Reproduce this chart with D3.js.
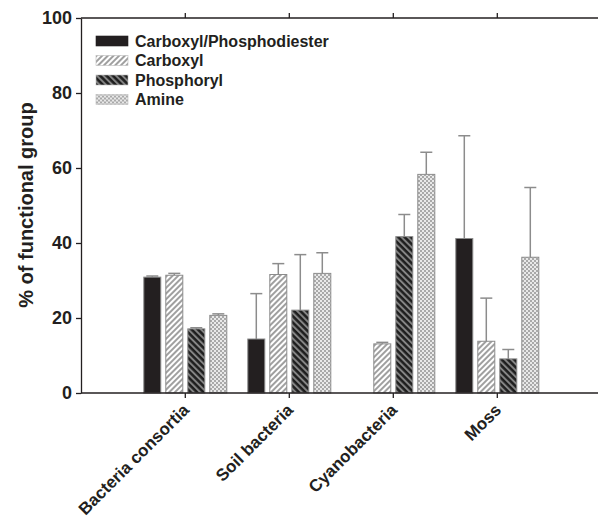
<!DOCTYPE html>
<html>
<head>
<meta charset="utf-8">
<script src="https://d3js.org/d3.v7.min.js"></script>
<style>
  body { margin: 0; background: #fff; }
  text { font-family: "Liberation Sans", Arial, sans-serif; font-weight: bold; fill: #231f20; }
</style>
</head>
<body>
<div class="graph"></div>
<script>

// data
var categories = ["Bacteria consortia", "Soil bacteria", "Cyanobacteria", "Moss"];
var seriesNames = ["Carboxyl/Phosphodiester", "Carboxyl", "Phosphoryl", "Amine"];

var carboxylPhosphodiester = [30.9, 14.4, null, 41.2];
var carboxylPhosphodiesterErr = [0.3, 12.1, null, 27.4];
var carboxyl = [31.4, 31.6, 13.1, 13.8];
var carboxylErr = [0.5, 2.9, 0.4, 11.5];
var phosphoryl = [17.1, 22.1, 41.7, 9.1];
var phosphorylErr = [0.3, 14.8, 5.9, 2.5];
var amine = [20.7, 31.9, 58.3, 36.2];
var amineErr = [0.4, 5.5, 5.9, 18.6];

var yTicks = [0, 20, 40, 60, 80, 100];

var seriesValues = [carboxylPhosphodiester, carboxyl, phosphoryl, amine];
var seriesErrs = [carboxylPhosphodiesterErr, carboxylErr, phosphorylErr, amineErr];
var fills = ["#231f20", "url(#hatchUp)", "url(#hatchDown)", "url(#dots)"];

var width = 598, height = 522;
// plot frame (note: "top" is taken by window.top)
var plotLeft = 81, plotTop = 18, plotBottom = 393, plotRight = 598;

var svg = d3.select("div.graph").append("svg")
    .attr("width", width)
    .attr("height", height);

// patterns
var defs = svg.append("defs");

var p1 = defs.append("pattern")
    .attr("id", "hatchUp")
    .attr("patternUnits", "userSpaceOnUse")
    .attr("width", 4).attr("height", 4)
    .attr("patternTransform", "rotate(45)");
p1.append("rect").attr("width", 4).attr("height", 4).attr("fill", "#fff");
p1.append("line").attr("x1", 1).attr("y1", 0).attr("x2", 1).attr("y2", 4)
    .attr("stroke", "#5f5f5f").attr("stroke-width", 1.2);

var p2 = defs.append("pattern")
    .attr("id", "hatchDown")
    .attr("patternUnits", "userSpaceOnUse")
    .attr("width", 4.5).attr("height", 4.5)
    .attr("patternTransform", "rotate(-45)");
p2.append("rect").attr("width", 4.5).attr("height", 4.5).attr("fill", "#8a8a8a");
p2.append("line").attr("x1", 1.5).attr("y1", 0).attr("x2", 1.5).attr("y2", 4.5)
    .attr("stroke", "#1e1e1e").attr("stroke-width", 2.6);

var p3 = defs.append("pattern")
    .attr("id", "dots")
    .attr("patternUnits", "userSpaceOnUse")
    .attr("width", 4).attr("height", 4);
p3.append("rect").attr("width", 4).attr("height", 4).attr("fill", "#a9a9a9");
p3.append("circle").attr("cx", 1).attr("cy", 1).attr("r", 1).attr("fill", "#fff");
p3.append("circle").attr("cx", 3).attr("cy", 3).attr("r", 1).attr("fill", "#fff");

// scales
var x = d3.scaleBand().domain(categories).range([133.3, 549.3]);
var xs = d3.scaleBand().domain(seriesNames).range([-41.5, 41.5]).paddingInner(5 / 22);
var y = d3.scaleLinear().domain([0, 100]).range([plotBottom, plotTop]);

// flatten into bar records
var bars = [];
seriesNames.forEach(function(s, i) {
  categories.forEach(function(c, j) {
    if (seriesValues[i][j] === null) { return; }
    bars.push({cat: c, series: s, idx: i, value: seriesValues[i][j], err: seriesErrs[i][j]});
  });
});

var cx = function(d) { return x(d.cat) + x.bandwidth() / 2 + xs(d.series); };

// error bars (upper only), drawn under the bars
var eb = svg.append("g").attr("stroke", "#8c8c8c").attr("stroke-width", 1.5);
eb.selectAll("line.stem")
  .data(bars)
  .enter().append("line")
    .attr("class", "stem")
    .attr("x1", function(d) { return cx(d) + xs.bandwidth() / 2; })
    .attr("x2", function(d) { return cx(d) + xs.bandwidth() / 2; })
    .attr("y1", function(d) { return y(d.value); })
    .attr("y2", function(d) { return y(d.value + d.err); });
eb.selectAll("line.cap")
  .data(bars)
  .enter().append("line")
    .attr("class", "cap")
    .attr("x1", function(d) { return cx(d) + xs.bandwidth() / 2 - 6; })
    .attr("x2", function(d) { return cx(d) + xs.bandwidth() / 2 + 6; })
    .attr("y1", function(d) { return y(d.value + d.err); })
    .attr("y2", function(d) { return y(d.value + d.err); });

// bars
svg.append("g").selectAll("rect")
  .data(bars)
  .enter().append("rect")
    .attr("x", cx)
    .attr("y", function(d) { return y(d.value); })
    .attr("width", xs.bandwidth())
    .attr("height", function(d) { return plotBottom - y(d.value); })
    .attr("fill", function(d) { return fills[d.idx]; })
    .attr("stroke", "#8c8c8c")
    .attr("stroke-width", 1);

// axes
var xTickPos = function(c) { return x(c) + x.bandwidth() / 2; };

var yAxis = svg.append("g")
    .attr("transform", "translate(" + plotLeft + ",0)")
    .call(d3.axisLeft(y).tickValues(yTicks).tickSize(5).tickPadding(4).tickSizeOuter(0));
yAxis.selectAll("text").style("font-size", "18px");

var xAxis = svg.append("g")
    .attr("transform", "translate(0," + plotBottom + ")")
    .call(d3.axisBottom(x).tickSize(5).tickSizeOuter(0).tickFormat(""));
xAxis.select(".domain").attr("d", "M" + plotLeft + ",0H" + plotRight);

var topAxis = svg.append("g")
    .attr("transform", "translate(0," + plotTop + ")")
    .call(d3.axisTop(x).tickSize(5).tickSizeOuter(0).tickFormat(""));
topAxis.select(".domain").attr("d", "M" + plotLeft + ",0H" + plotRight);

svg.selectAll(".domain, .tick line").attr("stroke", "#231f20").attr("stroke-width", 1.3);

// rotated category labels
svg.append("g").selectAll("text")
  .data(categories)
  .enter().append("text")
    .attr("transform", function(c) { return "translate(" + (xTickPos(c) + 5) + "," + (plotBottom + 18) + ") rotate(-45)"; })
    .attr("text-anchor", "end")
    .style("font-size", "17px")
    .text(function(c) { return c; });

// y title
svg.append("text")
    .attr("transform", "translate(33,205) rotate(-90)")
    .attr("text-anchor", "middle")
    .style("font-size", "20px")
    .text("% of functional group");

// legend
var legend = svg.append("g").selectAll("g")
  .data(seriesNames)
  .enter().append("g")
    .attr("transform", function(d, i) { return "translate(96," + (41 + i * 19.5) + ")"; });
legend.append("rect")
    .attr("x", 0).attr("y", -5)
    .attr("width", 32).attr("height", 10)
    .attr("fill", function(d, i) { return fills[i]; })
    .attr("stroke", function(d, i) { return i === 0 ? "#231f20" : "#bbb"; })
    .attr("stroke-width", 0.6);
legend.append("text")
    .attr("x", 39).attr("dy", "0.36em")
    .style("font-size", "16px")
    .text(function(d) { return d; });

</script>
</body>
</html>
